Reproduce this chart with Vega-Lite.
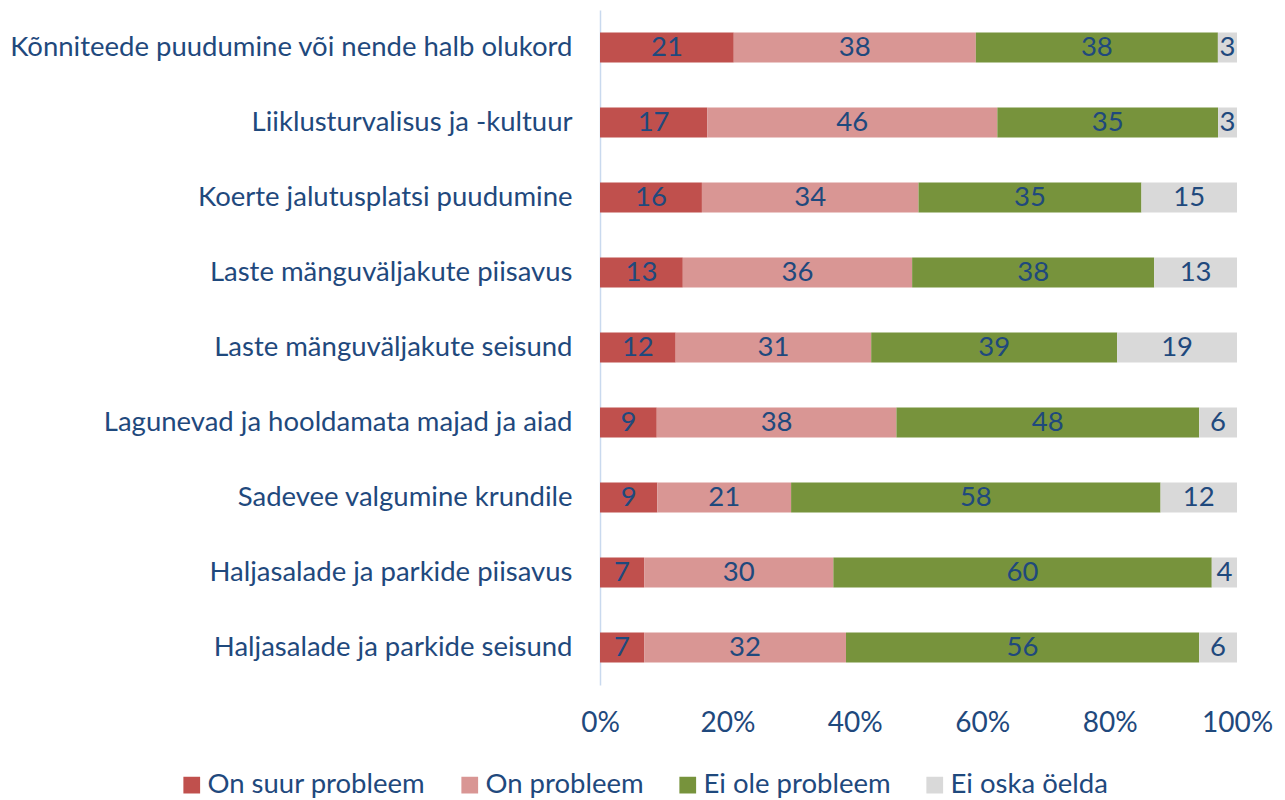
{
  "$schema": "https://vega.github.io/schema/vega-lite/v6.json",
  "width": 637,
  "height": 675,
  "autosize": {"type": "none"},
  "padding": {"left": 600, "top": 10, "right": 48, "bottom": 115},
  "background": "white",
  "config": {
    "view": {"stroke": null},
    "font": "Lato"
  },
  "data": {
    "values": [
      {"item": "Kõnniteede puudumine või nende halb olukord", "cat": "On suur probleem", "o": 1, "value": 21},
      {"item": "Kõnniteede puudumine või nende halb olukord", "cat": "On probleem", "o": 2, "value": 38},
      {"item": "Kõnniteede puudumine või nende halb olukord", "cat": "Ei ole probleem", "o": 3, "value": 38},
      {"item": "Kõnniteede puudumine või nende halb olukord", "cat": "Ei oska öelda", "o": 4, "value": 3},
      {"item": "Liiklusturvalisus ja -kultuur", "cat": "On suur probleem", "o": 1, "value": 17},
      {"item": "Liiklusturvalisus ja -kultuur", "cat": "On probleem", "o": 2, "value": 46},
      {"item": "Liiklusturvalisus ja -kultuur", "cat": "Ei ole probleem", "o": 3, "value": 35},
      {"item": "Liiklusturvalisus ja -kultuur", "cat": "Ei oska öelda", "o": 4, "value": 3},
      {"item": "Koerte jalutusplatsi puudumine", "cat": "On suur probleem", "o": 1, "value": 16},
      {"item": "Koerte jalutusplatsi puudumine", "cat": "On probleem", "o": 2, "value": 34},
      {"item": "Koerte jalutusplatsi puudumine", "cat": "Ei ole probleem", "o": 3, "value": 35},
      {"item": "Koerte jalutusplatsi puudumine", "cat": "Ei oska öelda", "o": 4, "value": 15},
      {"item": "Laste mänguväljakute  piisavus", "cat": "On suur probleem", "o": 1, "value": 13},
      {"item": "Laste mänguväljakute  piisavus", "cat": "On probleem", "o": 2, "value": 36},
      {"item": "Laste mänguväljakute  piisavus", "cat": "Ei ole probleem", "o": 3, "value": 38},
      {"item": "Laste mänguväljakute  piisavus", "cat": "Ei oska öelda", "o": 4, "value": 13},
      {"item": "Laste mänguväljakute seisund", "cat": "On suur probleem", "o": 1, "value": 12},
      {"item": "Laste mänguväljakute seisund", "cat": "On probleem", "o": 2, "value": 31},
      {"item": "Laste mänguväljakute seisund", "cat": "Ei ole probleem", "o": 3, "value": 39},
      {"item": "Laste mänguväljakute seisund", "cat": "Ei oska öelda", "o": 4, "value": 19},
      {"item": "Lagunevad ja hooldamata majad ja aiad", "cat": "On suur probleem", "o": 1, "value": 9},
      {"item": "Lagunevad ja hooldamata majad ja aiad", "cat": "On probleem", "o": 2, "value": 38},
      {"item": "Lagunevad ja hooldamata majad ja aiad", "cat": "Ei ole probleem", "o": 3, "value": 48},
      {"item": "Lagunevad ja hooldamata majad ja aiad", "cat": "Ei oska öelda", "o": 4, "value": 6},
      {"item": "Sadevee valgumine krundile", "cat": "On suur probleem", "o": 1, "value": 9},
      {"item": "Sadevee valgumine krundile", "cat": "On probleem", "o": 2, "value": 21},
      {"item": "Sadevee valgumine krundile", "cat": "Ei ole probleem", "o": 3, "value": 58},
      {"item": "Sadevee valgumine krundile", "cat": "Ei oska öelda", "o": 4, "value": 12},
      {"item": "Haljasalade ja parkide piisavus", "cat": "On suur probleem", "o": 1, "value": 7},
      {"item": "Haljasalade ja parkide piisavus", "cat": "On probleem", "o": 2, "value": 30},
      {"item": "Haljasalade ja parkide piisavus", "cat": "Ei ole probleem", "o": 3, "value": 60},
      {"item": "Haljasalade ja parkide piisavus", "cat": "Ei oska öelda", "o": 4, "value": 4},
      {"item": "Haljasalade ja parkide seisund", "cat": "On suur probleem", "o": 1, "value": 7},
      {"item": "Haljasalade ja parkide seisund", "cat": "On probleem", "o": 2, "value": 32},
      {"item": "Haljasalade ja parkide seisund", "cat": "Ei ole probleem", "o": 3, "value": 56},
      {"item": "Haljasalade ja parkide seisund", "cat": "Ei oska öelda", "o": 4, "value": 6}
    ]
  },
  "transform": [
    {"stack": "value", "groupby": ["item"], "sort": [{"field": "o", "order": "ascending"}], "as": ["v0", "v1"], "offset": "normalize"},
    {"calculate": "(datum.v0 + datum.v1) / 2", "as": "mid"}
  ],
  "encoding": {
    "y": {
      "field": "item",
      "type": "nominal",
      "sort": null,
      "title": null,
      "scale": {"paddingInner": 0.6, "paddingOuter": 0.3},
      "axis": {
        "ticks": false,
        "domainColor": "#C9D9EE",
        "domainWidth": 1.5,
        "labelFontSize": 27.5,
        "labelColor": "#1F497D",
        "labelPadding": 28,
        "labelLimit": 0,
        "labelFont": "Lato"
      }
    }
  },
  "layer": [
    {
      "mark": {"type": "bar"},
      "encoding": {
        "x": {
          "field": "v0",
          "type": "quantitative",
          "scale": {"domain": [0, 1], "nice": false},
          "title": null,
          "axis": {
            "format": ".0%",
            "values": [0, 0.2, 0.4, 0.6, 0.8, 1],
            "domain": false,
            "ticks": false,
            "grid": false,
            "labelFlush": false,
            "labelBound": false,
            "labelOverlap": false,
            "labelFontSize": 28,
            "labelColor": "#1F497D",
            "labelPadding": 24,
            "labelFont": "Lato"
          }
        },
        "x2": {"field": "v1"},
        "color": {
          "field": "cat",
          "type": "nominal",
          "sort": ["On suur probleem", "On probleem", "Ei ole probleem", "Ei oska öelda"],
          "scale": {
            "domain": ["On suur probleem", "On probleem", "Ei ole probleem", "Ei oska öelda"],
            "range": ["#C0504D", "#D99694", "#77933C", "#D9D9D9"]
          },
          "legend": {
            "title": null,
            "orient": "none",
            "direction": "horizontal",
            "legendX": -422,
            "legendY": 761,
            "symbolType": "square",
            "symbolSize": 280,
            "symbolStrokeWidth": 0,
            "labelFontSize": 27.5,
            "labelColor": "#1F497D",
            "labelFont": "Lato",
            "labelOffset": 2,
            "columnPadding": 30,
            "labelLimit": 0
          }
        }
      }
    },
    {
      "mark": {"type": "text", "fontSize": 27.5, "color": "#1F497D", "font": "Lato", "baseline": "middle", "align": "center"},
      "encoding": {
        "x": {"field": "mid", "type": "quantitative"},
        "text": {"field": "value", "type": "quantitative"}
      }
    }
  ]
}
